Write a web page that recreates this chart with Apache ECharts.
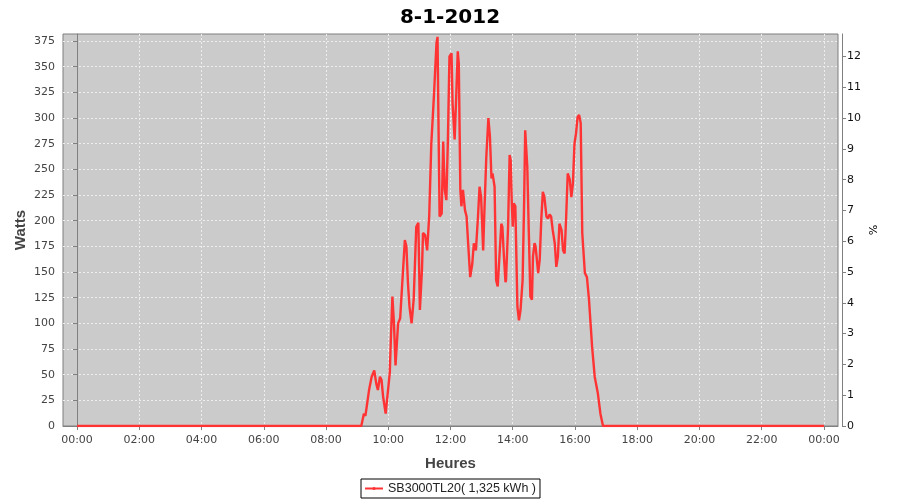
<!DOCTYPE html>
<html>
<head>
<meta charset="utf-8">
<script src="https://cdn.jsdelivr.net/npm/echarts@6/dist/echarts.min.js"></script>
<style>html,body{margin:0;padding:0;background:#fff;}#c{width:900px;height:500px;}</style>
</head>
<body>
<div id="c"></div>
<script>
const title = "8-1-2012";
const seriesName = "SB3000TL20( 1,325 kWh )";
const times = ["00:00","09:08","09:13","09:16","09:23","09:28","09:33","09:37","09:40","09:44","09:47","09:50","09:55","09:58",
"10:03","10:05","10:08","10:11","10:14","10:19","10:23","10:27","10:32","10:35","10:38","10:41","10:45","10:49","10:54","10:58",
"11:01","11:05","11:07","11:11","11:15","11:19","11:23","11:28","11:33","11:35","11:37","11:39","11:43","11:46","11:47","11:49","11:52","11:55","11:58",
"12:02","12:04","12:08","12:11","12:14","12:16","12:19","12:21","12:24","12:28","12:31","12:34","12:38","12:42","12:45","12:49","12:53","12:56","12:59",
"13:03","13:05","13:09","13:13","13:16","13:19","13:21","13:25","13:28","13:31","13:35","13:38","13:40","13:43","13:46","13:47","13:51","13:54","13:56","13:58",
"14:00","14:02","14:05","14:07","14:09","14:12","14:15","14:19","14:22","14:24","14:26","14:28","14:31","14:34","14:37","14:39","14:42","14:44","14:49","14:52","14:55","14:58",
"15:01","15:05","15:08","15:11","15:14","15:17","15:21","15:24","15:27","15:30","15:34","15:37","15:40","15:43","15:46","15:50","15:53","15:56","15:59",
"16:02","16:05","16:08","16:11","16:14","16:19","16:23","16:27","16:30","16:33","16:38","16:44","16:49","16:54","24:00"];
const watts = [0,0,12,10,35,48,54,41,35,48,45,29,12,12,
52,84,126,100,59,100,105,139,181,175,139,116,100,123,194,198,
113,152,188,186,171,205,275,321,373,379,288,204,207,277,259,230,220,279,360,
363,314,279,321,365,353,230,214,230,210,204,178,145,158,178,171,204,233,223,
171,204,262,300,282,241,246,233,142,136,171,197,194,165,140,142,194,264,259,220,
194,217,214,165,116,103,113,142,220,288,288,253,188,126,123,165,178,175,149,162,201,228,
223,204,202,206,204,191,178,155,165,197,191,171,168,204,246,240,223,236,275,
285,301,303,295,188,149,145,123,100,77,48,32,12,0,0];
const xTickLabels = ["00:00","02:00","04:00","06:00","08:00","10:00","12:00","14:00","16:00","18:00","20:00","22:00","00:00"];
const wattTicks = [0,25,50,75,100,125,150,175,200,225,250,275,300,325,350,375];
const pctTicks = [0,1,2,3,4,5,6,7,8,9,10,11,12];

function toMin(t){const p=t.split(":");return (+p[0])*60+(+p[1]);}
const xTickValues = xTickLabels.map((s,i)=>i*120);
const data = times.map((t,i)=>[toMin(t), watts[i]]);

const chart = echarts.init(document.getElementById('c'), null, {renderer:'canvas'});
const tickFont = {fontFamily:'DejaVu Sans', fontSize:11, color:'#444'};
const grid = {left:63, right:62, top:34, bottom:74, show:true, outerBoundsMode:'none', containLabel:false,
              backgroundColor:'#cbcbcb', borderColor:'#7f7f7f', borderWidth:1};
chart.setOption({
  animation:false,
  backgroundColor:'#fff',
  title:{text:title, left:'center', top:3, textStyle:{fontFamily:'DejaVu Sans', fontWeight:'bold', fontSize:20, color:'#000'}},
  legend:{data:[seriesName], bottom:2, left:'center', borderColor:'#000', borderWidth:1, padding:[3,4,3,3], itemGap:3, itemWidth:18, itemHeight:4,
          textStyle:{fontFamily:'Liberation Sans', fontSize:12.5, color:'#222'}},
  grid:grid,
  xAxis:{type:'value', min:-27, max:1467, offset:4,
    name:'Heures', nameLocation:'middle', nameGap:26,
    nameTextStyle:{fontFamily:'Liberation Sans', fontWeight:'bold', fontSize:15, color:'#444'},
    axisLine:{show:true, lineStyle:{color:'#808080'}},
    axisTick:{show:true, length:4, inside:false, customValues:xTickValues, lineStyle:{color:'#808080'}},
    axisLabel:Object.assign({customValues:xTickValues, margin:5, formatter:(v)=>xTickLabels[Math.round(v/120)]}, tickFont),
    splitLine:{show:true, lineStyle:{color:'#eeeeee', type:[2,2], width:1}}
  },
  yAxis:[{type:'value', min:0, max:381.8, offset:4, position:'left',
    name:'Watts', nameLocation:'middle', nameGap:31, nameRotate:90, nameMoveOverlap:false,
    nameTextStyle:{fontFamily:'Liberation Sans', fontWeight:'bold', fontSize:15, color:'#444'},
    axisLine:{show:true, lineStyle:{color:'#808080'}},
    axisTick:{show:true, length:4, customValues:wattTicks, lineStyle:{color:'#808080'}},
    axisLabel:Object.assign({customValues:wattTicks, margin:4}, tickFont),
    splitLine:{show:true, lineStyle:{color:'#eeeeee', type:[2,2], width:1}}
  },{type:'value', min:0, max:12.73, offset:4, position:'right',
    name:'%', nameLocation:'middle', nameGap:24, nameRotate:-90, nameMoveOverlap:false,
    nameTextStyle:{fontFamily:'DejaVu Sans', fontSize:11, color:'#000'},
    axisLine:{show:true, lineStyle:{color:'#808080'}},
    axisTick:{show:true, length:4, customValues:pctTicks, lineStyle:{color:'#808080'}},
    axisLabel:{customValues:pctTicks, margin:5, fontFamily:'DejaVu Sans', fontSize:11, color:'#111'},
    splitLine:{show:false}
  }],
  series:[{name:seriesName, type:'line', data:data, yAxisIndex:0,
    symbol:'circle', symbolSize:2, showSymbol:false,
    lineStyle:{color:'#ff3333', width:2.4}, itemStyle:{color:'#ff3333'}}]
});
</script>
</body>
</html>
